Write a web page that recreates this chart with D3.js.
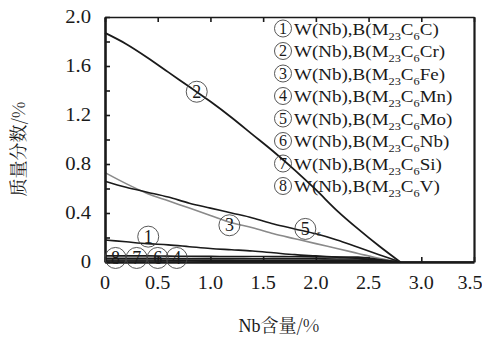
<!DOCTYPE html>
<html>
<head>
<meta charset="utf-8">
<script src="https://cdn.jsdelivr.net/npm/d3@7/dist/d3.min.js"></script>
<style>
  html, body { margin: 0; padding: 0; background: #fff; }
  svg { display: block; }
  svg text { font-family: "Liberation Serif", "Times New Roman", serif; }
  svg text.cjk, svg tspan.cjk { font-family: "Noto Serif CJK SC", "Noto Sans CJK SC", serif; }
  .preload { position: absolute; left: 0; top: 0; opacity: 0; font-size: 10px; pointer-events: none; }
</style>
</head>
<body>
<div class="preload"><span style="font-family:'Liberation Serif'">W(Nb) 0.5</span><span style="font-family:'Noto Serif CJK SC'">质量分数含</span></div>
<svg id="chart" width="482" height="340"></svg>
<script>
// Nb content (%) sampled along the x axis
const nbContent = [0, 0.2, 0.4, 0.6, 0.8, 1.0, 1.2, 1.4, 1.6, 1.8, 2.0, 2.2, 2.4, 2.6, 2.8];

// Mass fraction (%) of each element in M23C6
const massC  = [0.18, 0.165, 0.15, 0.14, 0.125, 0.11, 0.10, 0.09, 0.075, 0.06, 0.05, 0.04, 0.03, 0.015, 0];
const massCr = [1.87, 1.78, 1.67, 1.55, 1.43, 1.31, 1.18, 1.04, 0.90, 0.75, 0.59, 0.42, 0.27, 0.13, 0];
const massFe = [0.73, 0.64, 0.56, 0.50, 0.44, 0.38, 0.32, 0.28, 0.23, 0.19, 0.15, 0.11, 0.07, 0.03, 0];
const massMn = [0.05, 0.05, 0.05, 0.048, 0.047, 0.046, 0.045, 0.045, 0.044, 0.043, 0.042, 0.041, 0.04, 0.02, 0];
const massMo = [0.66, 0.61, 0.57, 0.53, 0.48, 0.44, 0.40, 0.36, 0.31, 0.27, 0.23, 0.18, 0.12, 0.06, 0];
const massNb = [0.03, 0.03, 0.03, 0.029, 0.029, 0.028, 0.028, 0.027, 0.027, 0.026, 0.026, 0.025, 0.024, 0.012, 0];
const massSi = [0.016, 0.016, 0.016, 0.015, 0.015, 0.015, 0.015, 0.014, 0.014, 0.014, 0.014, 0.013, 0.013, 0.007, 0];
const massV  = [0.008, 0.008, 0.008, 0.008, 0.008, 0.007, 0.007, 0.007, 0.007, 0.007, 0.006, 0.006, 0.006, 0.003, 0];

// Series order (circled number 1..8) and element names
const seriesNum = ["1", "2", "3", "4", "5", "6", "7", "8"];
const elements  = ["C", "Cr", "Fe", "Mn", "Mo", "Nb", "Si", "V"];
const seriesValues = [massC, massCr, massFe, massMn, massMo, massNb, massSi, massV];

// On-curve label anchors (Nb %, mass %)
const labelNum = ["2", "1", "3", "5", "8", "7", "6", "4"];
const labelX   = [0.87, 0.41, 1.18, 1.90, 0.10, 0.30, 0.50, 0.68];
const labelY   = [1.39, 0.207, 0.30, 0.27, 0.033, 0.033, 0.033, 0.033];

// Axis ticks
const xTicks = [0, 0.5, 1.0, 1.5, 2.0, 2.5, 3.0, 3.5];
const xTickLabels = ["0", "0.5", "1.0", "1.5", "2.0", "2.5", "3.0", "3.5"];
const yTicks = [0, 0.4, 0.8, 1.2, 1.6, 2.0];
const yTickLabels = ["0", "0.4", "0.8", "1.2", "1.6", "2.0"];
const yMinorTicks = [0, 0.2, 0.4, 0.6, 0.8, 1.0, 1.2, 1.4, 1.6, 1.8, 2.0];

const svg = d3.select("#chart");
const plotLeft = 105, plotRight = 474, plotTop = 17, plotBottom = 262;

const x = d3.scaleLinear().domain([0, 3.5]).range([plotLeft, plotRight]);
const y = d3.scaleLinear().domain([0, 2.0]).range([plotBottom, plotTop]);

const ink = "#1a1a1a";

// Horizontally widened text helper
function wideText(g, px, py, str, size, sx, anchor) {
  return g.append("g")
    .attr("transform", `translate(${px},${py}) scale(${sx},1)`)
    .append("text")
    .attr("x", 0).attr("y", 0)
    .attr("font-size", size)
    .attr("fill", ink)
    .attr("text-anchor", anchor || "start")
    .text(str);
}

// Curves
const line = d3.line()
  .x((d, i) => x(nbContent[i]))
  .y(d => y(d))
  .curve(d3.curveMonotoneX);

const plot = svg.append("g");
seriesValues.forEach((vals, k) => {
  plot.append("path")
    .datum(vals)
    .attr("d", line)
    .attr("fill", "none")
    .attr("stroke", elements[k] === "Fe" ? "#8a8a8a" : ink)
    .attr("stroke-width", elements[k] === "Cr" ? 1.8 : 1.6);
});

// Baseline continuation to the right edge
plot.append("line")
  .attr("x1", x(2.8)).attr("x2", x(3.5))
  .attr("y1", y(0)).attr("y2", y(0))
  .attr("stroke", ink).attr("stroke-width", 1.5);

// Axes: ticks drawn inward
const axL = svg.append("g").attr("transform", `translate(${plotLeft},0)`)
  .call(d3.axisLeft(y).tickValues(yMinorTicks).tickSizeInner(-5).tickSizeOuter(0).tickFormat(""));
const axB = svg.append("g").attr("transform", `translate(0,${plotBottom})`)
  .call(d3.axisBottom(x).tickValues(xTicks).tickSizeInner(-5).tickSizeOuter(0).tickFormat(""));
const axT = svg.append("g").attr("transform", `translate(0,${plotTop})`)
  .call(d3.axisTop(x).tickValues(xTicks).tickSizeInner(-5).tickSizeOuter(0).tickFormat(""));
const axR = svg.append("g").attr("transform", `translate(${plotRight},0)`)
  .call(d3.axisRight(y).tickValues([]).tickSizeOuter(0));

[axL, axB, axT, axR].forEach(a => {
  a.selectAll("line").attr("stroke", ink).attr("stroke-width", 1.6);
  a.select(".domain").attr("stroke", ink);
});
axL.select(".domain").attr("stroke-width", 2.6);
axB.select(".domain").attr("stroke-width", 2.6);
axT.select(".domain").attr("stroke-width", 1.3);
axR.select(".domain").attr("stroke-width", 2.2);

// Tick labels
const labels = svg.append("g");
xTicks.forEach((v, i) => wideText(labels, Math.min(x(v), 470), 289, xTickLabels[i], 18, 1.12, "middle"));
yTicks.forEach((v, i) => wideText(labels, 91, y(v) + 6, yTickLabels[i], 18, 1.15, "end"));

// Axis titles
svg.append("text")
  .attr("x", 279).attr("y", 332)
  .attr("text-anchor", "middle")
  .attr("font-size", 18)
  .attr("fill", ink)
  .call(t => {
    t.append("tspan").text("Nb");
    t.append("tspan").attr("class", "cjk").attr("font-size", 18).text("含量/%");
  });

svg.append("text")
  .attr("class", "cjk")
  .attr("transform", `translate(25,149) rotate(-90)`)
  .attr("text-anchor", "middle")
  .attr("font-size", 18)
  .attr("fill", ink)
  .text("质量分数/%");

// Circled markers
function circled(g, cx, cy, r, num, size) {
  g.append("circle")
    .attr("cx", cx).attr("cy", cy).attr("r", r)
    .attr("fill", "none").attr("stroke", "#444").attr("stroke-width", 0.9);
  g.append("text")
    .attr("x", cx).attr("y", cy + size * 0.34)
    .attr("text-anchor", "middle")
    .attr("font-size", size)
    .attr("fill", ink)
    .text(num);
}

const marks = svg.append("g");
labelNum.forEach((n, i) => circled(marks, x(labelX[i]), y(labelY[i]), 10.5, n, 18));
marks.append("text")
  .attr("x", x(1.90) + 12).attr("y", y(0.27) + 7)
  .attr("font-family", "'DejaVu Sans', sans-serif")
  .attr("font-size", 9).attr("font-weight", "bold")
  .attr("fill", "#333")
  .text("s");

// Legend
const legend = svg.append("g");
seriesNum.forEach((n, i) => {
  const cy = 28.5 + i * 22.5;
  circled(legend, 283, cy, 8.5, n, 16);
  const g = legend.append("g").attr("transform", `translate(294,${cy + 6}) scale(1.12,1)`);
  const t = g.append("text")
    .attr("font-size", 17).attr("fill", ink);
  t.append("tspan").text("W(Nb),B(M");
  t.append("tspan").attr("font-size", 11).attr("dy", 5).text("23");
  t.append("tspan").attr("dy", -5).text("C");
  t.append("tspan").attr("font-size", 11).attr("dy", 5).text("6");
  t.append("tspan").attr("dy", -5).text(elements[i] + ")");
});
</script>
</body>
</html>
